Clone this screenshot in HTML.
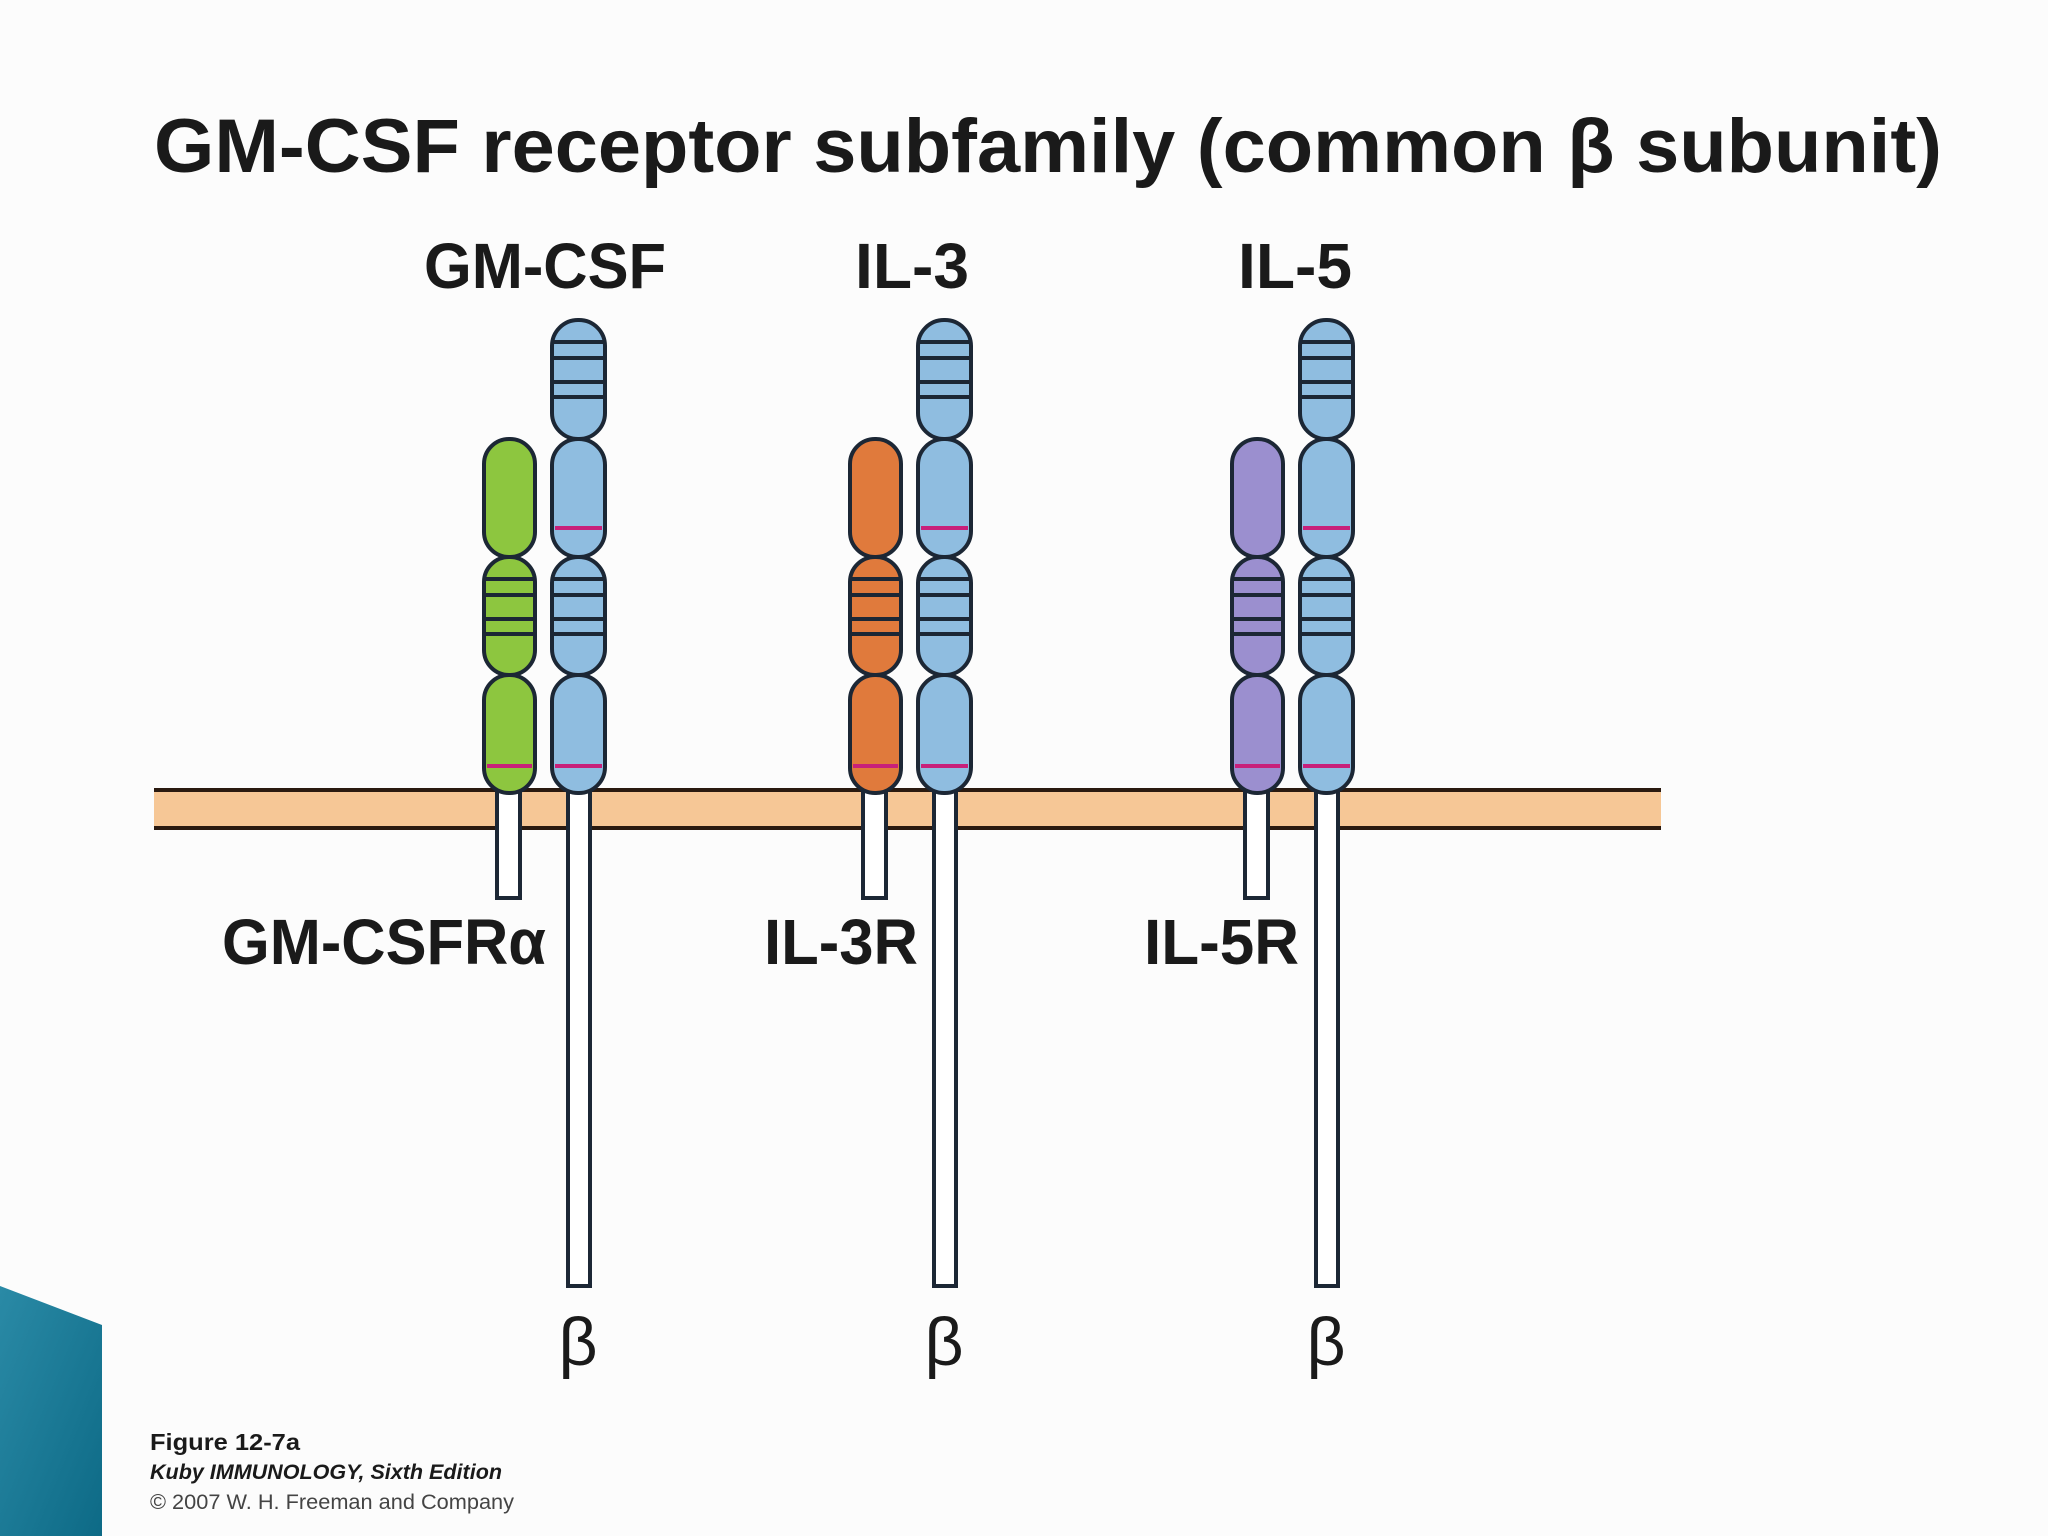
<!DOCTYPE html>
<html><head><meta charset="utf-8"><style>
html,body{margin:0;padding:0;background:#fcfcfc;}
svg{display:block}
text{font-family:"Liberation Sans",sans-serif;font-weight:bold;fill:#1a1a1a}
</style></head><body>
<svg width="2048" height="1536" viewBox="0 0 2048 1536" xmlns="http://www.w3.org/2000/svg">
<defs>
<linearGradient id="tg" x1="0" y1="0" x2="1" y2="1"><stop offset="0" stop-color="#2a8aa6"/><stop offset="1" stop-color="#0d6a86"/></linearGradient>
<g id="pair" stroke="#1c2735" stroke-width="4">
  <!-- alpha -->
  <rect x="497" y="788" width="23" height="110" fill="#fff"/>
  <rect x="484" y="439" width="51" height="118" rx="25" fill="currentColor"/>
  <rect x="484" y="557" width="51" height="118" rx="25" fill="currentColor"/>
  <rect x="484" y="675" width="51" height="118" rx="25" fill="currentColor"/>
  <line x1="486" y1="579" x2="533" y2="579"/><line x1="486" y1="595" x2="533" y2="595"/>
  <line x1="486" y1="619" x2="533" y2="619"/><line x1="486" y1="634" x2="533" y2="634"/>
  <line x1="487" y1="766" x2="532" y2="766" stroke="#c8207a" stroke-width="4"/>
  <!-- beta -->
  <rect x="568" y="788" width="22" height="498" fill="#fff"/>
  <rect x="552" y="320" width="53" height="119" rx="26" fill="#8fbde0"/>
  <rect x="552" y="439" width="53" height="118" rx="26" fill="#8fbde0"/>
  <rect x="552" y="557" width="53" height="118" rx="26" fill="#8fbde0"/>
  <rect x="552" y="675" width="53" height="118" rx="26" fill="#8fbde0"/>
  <line x1="554" y1="342" x2="603" y2="342"/><line x1="554" y1="358" x2="603" y2="358"/>
  <line x1="554" y1="382" x2="603" y2="382"/><line x1="554" y1="397" x2="603" y2="397"/>
  <line x1="554" y1="579" x2="603" y2="579"/><line x1="554" y1="595" x2="603" y2="595"/>
  <line x1="554" y1="619" x2="603" y2="619"/><line x1="554" y1="634" x2="603" y2="634"/>
  <line x1="555" y1="528" x2="602" y2="528" stroke="#c8207a"/>
  <line x1="555" y1="766" x2="602" y2="766" stroke="#c8207a"/>
</g>
</defs>
<polygon points="0,1286 102,1325 102,1536 0,1536" fill="url(#tg)"/>
<text x="154" y="172" font-size="76" textLength="1788" lengthAdjust="spacingAndGlyphs">GM-CSF receptor subfamily (common β subunit)</text>
<text x="424" y="288" font-size="64" textLength="242" lengthAdjust="spacingAndGlyphs">GM-CSF</text>
<text x="855" y="288" font-size="64" textLength="114" lengthAdjust="spacingAndGlyphs">IL-3</text>
<text x="1238" y="288" font-size="64" textLength="114" lengthAdjust="spacingAndGlyphs">IL-5</text>
<!-- membrane -->
<rect x="154" y="792" width="1507" height="34" fill="#f6c796"/>
<line x1="154" y1="790" x2="1661" y2="790" stroke="#2a1a10" stroke-width="4"/>
<line x1="154" y1="828" x2="1661" y2="828" stroke="#2a1a10" stroke-width="4"/>
<use href="#pair" style="color:#8dc63f"/>
<use href="#pair" transform="translate(366,0)" style="color:#e07a3c"/>
<use href="#pair" transform="translate(748,0)" style="color:#9b8fcf"/>
<text x="222" y="964" font-size="64" textLength="324" lengthAdjust="spacingAndGlyphs">GM-CSFRα</text>
<text x="764" y="964" font-size="64" textLength="154" lengthAdjust="spacingAndGlyphs">IL-3R</text>
<text x="1144" y="964" font-size="64" textLength="155" lengthAdjust="spacingAndGlyphs">IL-5R</text>
<text x="578" y="1365" font-size="68" text-anchor="middle" style="font-weight:normal">β</text>
<text x="944" y="1365" font-size="68" text-anchor="middle" style="font-weight:normal">β</text>
<text x="1326" y="1365" font-size="68" text-anchor="middle" style="font-weight:normal">β</text>
<text x="150" y="1450" font-size="23" textLength="150" lengthAdjust="spacingAndGlyphs">Figure 12-7a</text>
<text x="150" y="1479" font-size="21" font-style="italic" textLength="352" lengthAdjust="spacingAndGlyphs">Kuby IMMUNOLOGY, Sixth Edition</text>
<text x="150" y="1509" font-size="21" style="font-weight:normal;fill:#444" textLength="364" lengthAdjust="spacingAndGlyphs">© 2007 W. H. Freeman and Company</text>
</svg>
</body></html>
